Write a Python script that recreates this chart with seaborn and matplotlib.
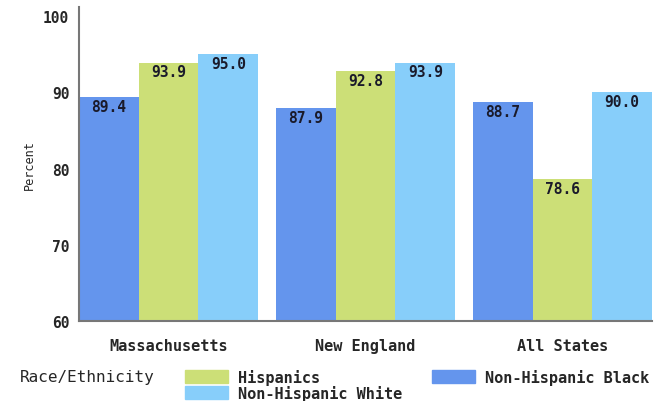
import matplotlib
matplotlib.use('Agg')
import matplotlib.pyplot as plt
import seaborn as sns
import pandas as pd
from matplotlib.patches import Patch

# data
regions = ['Massachusetts', 'New England', 'All States']
groups = ['Non-Hispanic Black', 'Hispanics', 'Non-Hispanic White']
black = [89.4, 87.9, 88.7]
hisp = [93.9, 92.8, 78.6]
white = [95.0, 93.9, 90.0]

colors = {'Non-Hispanic Black': '#6495ED',
          'Hispanics': '#CCDF77',
          'Non-Hispanic White': '#87CEFA'}

df = pd.DataFrame({'region': regions * 3,
                   'group': [groups[0]] * 3 + [groups[1]] * 3 + [groups[2]] * 3,
                   'value': black + hisp + white})

sns.set_style('white')
plt.rcParams['font.family'] = ['DejaVu Sans Mono']
plt.rcParams['font.weight'] = 'bold'

fig = plt.figure(figsize=(6.64, 4.02), dpi=100)
ax = fig.add_axes([0.119, 0.199, 0.863, 0.781])

sns.barplot(data=df, x='region', y='value', hue='group', hue_order=groups,
            order=regions, palette=colors, width=0.91, saturation=1,
            ax=ax, legend=False, edgecolor='none')

# 막대 위 값 표시
for c in ax.containers:
    ax.bar_label(c, fmt='%.1f', padding=-12, fontsize=10.5, fontweight='bold',
                 color='#1a1a2a')

ax.set_ylim(60, 101.2)
ax.set_xlim(-0.455, 2.455)
ax.set_yticks([60, 70, 80, 90, 100])
ax.tick_params(axis='y', length=4, width=1, color='#555555', labelsize=10.5, pad=3)
ax.tick_params(axis='x', length=0, labelsize=11, pad=12.5)
ax.set_xlabel('')
ax.set_ylabel('Percent', fontsize=8.5, fontweight='normal', labelpad=5)
for s in ['top', 'right']:
    ax.spines[s].set_visible(False)
ax.spines['left'].set_color('#777777')
ax.spines['bottom'].set_color('#777777')
ax.spines['left'].set_linewidth(1.5)
ax.spines['bottom'].set_linewidth(1.5)

# 범례
fig.text(0.03, 0.06, 'Race/Ethnicity', fontsize=11.5, fontweight='normal', va='center')
handles = [Patch(color=colors['Hispanics'], label='Hispanics'),
           Patch(color=colors['Non-Hispanic White'], label='Non-Hispanic White'),
           Patch(color=colors['Non-Hispanic Black'], label='Non-Hispanic Black')]
fig.legend(handles=handles, ncol=2, loc='lower left', bbox_to_anchor=(0.279, 0.0),
           frameon=False, fontsize=11, handlelength=2.8, handleheight=0.9,
           handletextpad=0.65, columnspacing=1.95, labelspacing=0.0,
           borderpad=0, borderaxespad=0)

fig.savefig('out.png', dpi=100)
